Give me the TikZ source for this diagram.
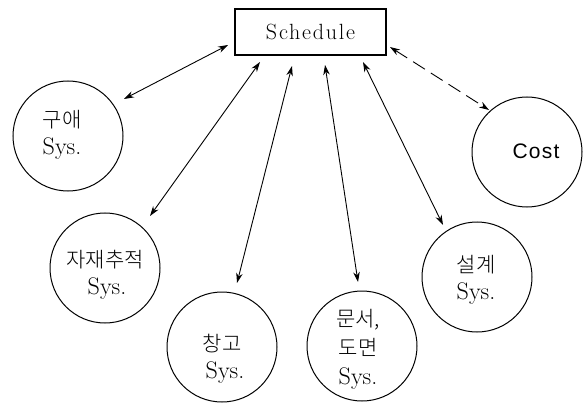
\documentclass[tikz,border=0pt]{standalone}
\usepackage{fontspec}
\newfontfamily\kor{Noto Sans CJK KR}[UprightFont=* Light]
\newfontfamily\costfont{Liberation Sans}[LetterSpace=6]
\newfontfamily\schedfont{Latin Modern Roman}[LetterSpace=8]
\usetikzlibrary{arrows.meta}
\begin{document}
\begin{tikzpicture}[x=1pt,y=-1pt,
  sys/.style={circle,draw,line width=1pt,minimum size=110pt,inner sep=0pt},
  lbl/.style={align=center,inner sep=0pt,font=\fontsize{21}{27}\selectfont},
  sy/.style={},
  arr/.style={line width=0.9pt,{Stealth[length=10pt,width=6.5pt]}-{Stealth[length=10pt,width=6.5pt]}},
  dasharr/.style={arr,dash pattern=on 14pt off 7pt}]
\newcommand\syst{{\fontsize{24}{27}\selectfont Sys.}}
\useasboundingbox (0,0) rectangle (585,403);
% Schedule box
\node[draw,line width=1.1pt,minimum width=151pt,minimum height=46pt,inner sep=0pt,
      font=\schedfont\fontsize{22}{24}\selectfont] (sched) at (310.5,32) {Schedule};
% circles
\node[sys] (guae) at (68,136) {};
\node[sys] (jajae) at (105,268) {};
\node[sys] (chang) at (222,347) {};
\node[sys] (mun) at (362,346) {};
\node[sys] (seol) at (477,277) {};
\node[sys] (cost) at (527,152) {};
% labels
\node[lbl] (tguae) at (62,135) {{\kor 구애}\\\syst};
\node[lbl] (tjajae) at (105,275) {{\kor 자재추적}\\\hspace*{4pt}\syst};
\node[lbl] (tchang) at (222,359) {{\kor 창고}\\\hspace*{6pt}\syst};
\node[lbl,font=\fontsize{21}{29}\selectfont] (tmun) at (358,349) {{\kor 문서,}\\{\kor 도면}\\\syst};
\node[lbl] (tseol) at (476,280) {{\kor 설계}\\\syst};
\node[inner sep=0pt,font=\costfont\fontsize{21}{24}\selectfont] (tcost) at (536,151) {Cost};
% connector ends
\coordinate (s1) at (228,45);  \coordinate (e1) at (124,99);
\coordinate (s2) at (260,62);  \coordinate (e2) at (150,216);
\coordinate (s3) at (292,66);  \coordinate (e3) at (237,283);
\coordinate (s4) at (325,65);  \coordinate (e4) at (358,282);
\coordinate (s5) at (363,62);  \coordinate (e5) at (443,225);
\coordinate (s6) at (390,47);  \coordinate (e6) at (489,110);
\draw[arr] (s1) -- (e1);
\draw[arr] (s2) -- (e2);
\draw[arr] (s3) -- (e3);
\draw[arr] (s4) -- (e4);
\draw[arr] (s5) -- (e5);
\draw[dasharr] (s6) -- (e6);
\end{tikzpicture}
\end{document}
